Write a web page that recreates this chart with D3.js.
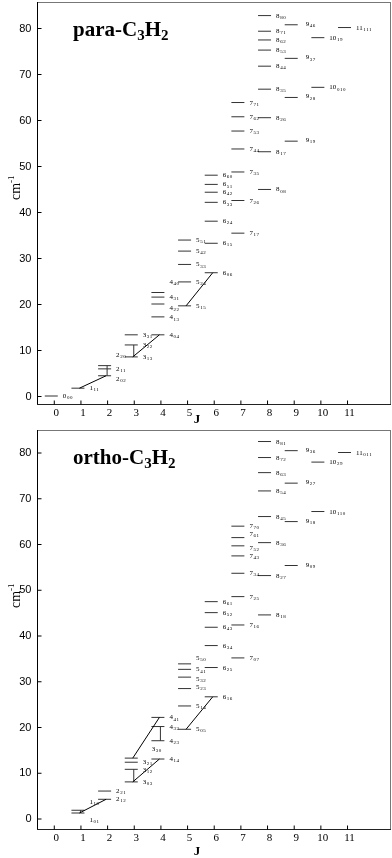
<!DOCTYPE html>
<html>
<head>
<meta charset="utf-8">
<script src="https://cdn.jsdelivr.net/npm/d3@7"></script>
<style>
body { margin: 0; background: #fff; }
svg { filter: grayscale(1); }
</style>
</head>
<body>
<div id="chart"></div>
<script>
// ---- data (energies in cm-1) ----
const jTicks = [0, 1, 2, 3, 4, 5, 6, 7, 8, 9, 10, 11];
const eTicks = [0, 10, 20, 30, 40, 50, 60, 70, 80];

// [J, KaKc, energy]
const paraLevels = [
  [0, "00", 0],
  [1, "11", 1.7],
  [2, "02", 4.4], [2, "11", 5.9], [2, "20", 6.6],
  [3, "13", 8.5], [3, "22", 11.1], [3, "31", 13.3],
  [4, "04", 13.3], [4, "13", 17.2], [4, "22", 20.0], [4, "31", 21.5], [4, "40", 22.5],
  [5, "15", 19.6], [5, "24", 24.8], [5, "33", 28.6], [5, "42", 31.5], [5, "51", 33.9],
  [6, "06", 26.8], [6, "15", 33.2], [6, "24", 38.0], [6, "33", 42.1], [6, "42", 44.3], [6, "51", 46.0], [6, "60", 48.0],
  [7, "17", 35.4], [7, "26", 42.5], [7, "35", 48.7], [7, "44", 53.7], [7, "53", 57.6], [7, "62", 60.7], [7, "71", 63.8],
  [8, "08", 44.9], [8, "17", 53.1], [8, "26", 60.5], [8, "35", 66.7], [8, "44", 71.7], [8, "53", 75.2], [8, "62", 77.4], [8, "71", 79.3], [8, "80", 82.7],
  [9, "19", 55.4], [9, "28", 64.9], [9, "37", 73.4], [9, "46", 80.7],
  [10, "010", 67.1], [10, "19", 77.9],
  [11, "111", 80.1]
];

const orthoLevels = [
  [1, "01", 1.2], [1, "10", 1.8],
  [2, "12", 4.2], [2, "21", 6.0],
  [3, "03", 8.0], [3, "12", 10.75], [3, "21", 12.3], [3, "30", 13.2],
  [4, "14", 13.0], [4, "23", 17.0], [4, "32", 20.1], [4, "41", 22.1],
  [5, "05", 19.5], [5, "14", 24.6], [5, "23", 28.4], [5, "32", 30.9], [5, "41", 32.6], [5, "50", 33.8],
  [6, "16", 26.6], [6, "25", 33.0], [6, "34", 37.8], [6, "43", 41.8], [6, "52", 45.0], [6, "61", 47.4],
  [7, "07", 35.1], [7, "16", 42.3], [7, "25", 48.5], [7, "34", 53.6], [7, "43", 57.4], [7, "52", 59.6], [7, "61", 61.4], [7, "70", 63.9],
  [8, "18", 44.5], [8, "27", 53.1], [8, "36", 60.3], [8, "45", 66.0], [8, "54", 71.6], [8, "63", 75.6], [8, "72", 78.9], [8, "81", 82.4],
  [9, "09", 55.3], [9, "18", 64.9], [9, "27", 73.3], [9, "36", 80.4],
  [10, "110", 67.1], [10, "29", 77.9],
  [11, "011", 80.0]
];

// [J1, E1, J2, E2] slanted connectors
const paraTrans = [[1, 1.7, 2, 4.4], [3, 8.5, 4, 13.3], [5, 19.6, 6, 26.8]];
const orthoTrans = [[1, 1.2, 2, 4.2], [3, 8.0, 4, 13.0], [3, 13.2, 4, 22.1], [5, 19.5, 6, 26.6]];

// [J, Etop, Ebottom] vertical bars
const paraBars = [[2, 6.6, 4.4], [3, 11.1, 8.5]];
const orthoBars = [[1, 1.8, 1.2], [3, 10.75, 8.0], [4, 20.1, 17.0]];

// label nudges in px where the original moved a label off its line
const paraNudge = {"2_02": [0, 3], "2_20": [0, -11], "4_40": [0, -11], "4_22": [0, 4], "4_13": [0, 0.5]};
const orthoNudge = {"1_10": [0, -8], "1_01": [0, 7], "3_30": [9, -9], "3_12": [0, 0.5], "5_50": [0, -6],
  "5_32": [0, 1.5], "5_23": [0, -1.5], "7_61": [0, -4], "7_52": [0, 2]};

const svg = d3.select("#chart").append("svg")
  .attr("width", 392)
  .attr("height", 858);

function panel(o) {
  var x = d3.scaleLinear().domain([-0.63, 12.65]).range([37, 391]);
  var y = d3.scaleLinear().domain([0, 80]).range(o.yRange);

  var g = svg.append("g");

  // box
  g.append("rect")
    .attr("x", 37.5).attr("y", o.top + 0.5)
    .attr("width", 353).attr("height", o.bottom - o.top)
    .attr("fill", "none").attr("stroke", "#777");
  g.append("line").attr("x1", 37.5).attr("x2", 37.5).attr("y1", o.top).attr("y2", o.bottom + 0.5)
    .attr("stroke", "#000");
  g.append("line").attr("x1", 37).attr("x2", 391).attr("y1", o.bottom + 0.5).attr("y2", o.bottom + 0.5)
    .attr("stroke", "#222");

  // axes, ticks pointing inward
  var ya = g.append("g")
    .attr("transform", "translate(37.5,0)")
    .call(d3.axisLeft(y).tickValues(eTicks).tickSizeInner(-4).tickSizeOuter(0).tickPadding(6));
  ya.select(".domain").remove();
  ya.selectAll("text").style("font-family", "Liberation Sans, Arial").style("font-size", "11px").attr("dy", "0.28em");

  var xa = g.append("g")
    .attr("transform", "translate(0," + (o.bottom + 0.5) + ")")
    .call(d3.axisBottom(x).tickValues(jTicks).tickSizeInner(-4).tickSizeOuter(0).tickPadding(4));
  xa.select(".domain").remove();
  xa.selectAll("text").style("font-family", "Liberation Serif, Times New Roman").style("font-size", "11px").attr("dx", 2);

  // axis titles
  g.append("text")
    .attr("x", 197).attr("y", o.bottom + o.jGap)
    .attr("text-anchor", "middle")
    .style("font-family", "Liberation Serif").style("font-weight", "bold").style("font-size", "13px")
    .text("J");

  var cm = g.append("text")
    .attr("transform", "translate(20," + o.cmY + ") rotate(-90)")
    .style("font-family", "Liberation Serif").style("font-size", "14px");
  cm.append("tspan").text("cm");
  cm.append("tspan").attr("dy", -6).style("font-size", "9px").text("-1");

  // title
  var t = g.append("text")
    .attr("x", 73).attr("y", o.top + 34)
    .style("font-family", "Liberation Serif").style("font-weight", "bold").style("font-size", "21px");
  t.append("tspan").text(o.name + "-C");
  t.append("tspan").attr("dy", 4).style("font-size", "15px").text("3");
  t.append("tspan").attr("dy", -4).text("H");
  t.append("tspan").attr("dy", 4).style("font-size", "15px").text("2");

  // energy levels
  g.selectAll("line.lev")
    .data(o.levels)
    .join("line")
      .attr("class", "lev")
      .attr("x1", d => x(d[0]) - 9)
      .attr("x2", d => x(d[0]) + 4)
      .attr("y1", d => y(d[2]))
      .attr("y2", d => y(d[2]))
      .attr("stroke", "#333")
      .attr("stroke-width", 1);

  g.selectAll("line.bar")
    .data(o.bars)
    .join("line")
      .attr("class", "bar")
      .attr("x1", d => x(d[0])).attr("x2", d => x(d[0]))
      .attr("y1", d => y(d[1])).attr("y2", d => y(d[2]))
      .attr("stroke", "#333");

  g.selectAll("line.tr")
    .data(o.trans)
    .join("line")
      .attr("class", "tr")
      .attr("x1", d => x(d[0]) - 1).attr("y1", d => y(d[1]))
      .attr("x2", d => x(d[2]) - 1).attr("y2", d => y(d[3]))
      .attr("stroke", "#000");

  var lab = g.selectAll("text.lab")
    .data(o.levels)
    .join("text")
      .attr("class", "lab")
      .attr("x", function(d) {
        var n = o.nudge[d[0] + "_" + d[1]] || [0, 0];
        return x(d[0]) + (d[0] === 9 ? 12 : 9) + n[0];
      })
      .attr("y", function(d) {
        var n = o.nudge[d[0] + "_" + d[1]] || [0, 0];
        return y(d[2]) + 2 + n[1] - (d[0] === 9 ? 1 : 0);
      })
      .style("font-family", "Liberation Serif")
      .style("font-size", "7px")
      .style("fill", "#000");
  lab.append("tspan").text(d => d[0]);
  lab.append("tspan")
    .attr("dx", 0.6).attr("dy", 1.2)
    .style("font-size", "5px").style("letter-spacing", "0.5px")
    .text(d => d[1]);
}

panel({name: "para", levels: paraLevels, trans: paraTrans, bars: paraBars, nudge: paraNudge,
  top: 2, bottom: 404, yRange: [396, 28], jGap: 19, cmY: 200});
panel({name: "ortho", levels: orthoLevels, trans: orthoTrans, bars: orthoBars, nudge: orthoNudge,
  top: 430, bottom: 829, yRange: [818.5, 452.5], jGap: 26, cmY: 608});
</script>
</body>
</html>
